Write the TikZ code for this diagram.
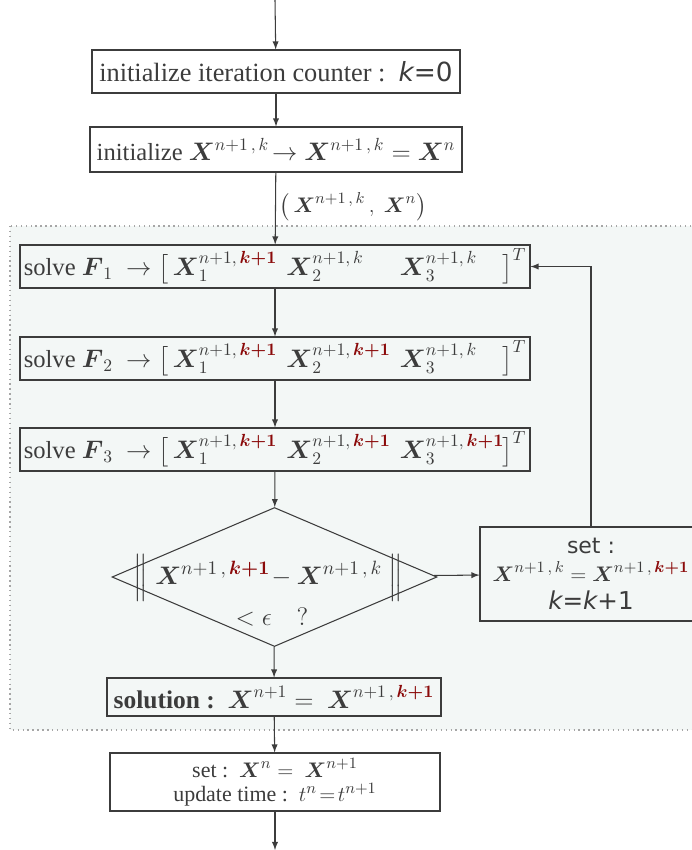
\documentclass[tikz,border=0pt]{standalone}
\usepackage{amsmath,amssymb}
\usepackage{xcolor}
\usepackage{fontspec}
\setmainfont{Liberation Serif}
\setsansfont{DejaVu Sans}
\usepackage{tikz}
\usetikzlibrary{calc,arrows.meta,arrows,shapes.geometric}
\definecolor{kred}{RGB}{139,10,10}
\definecolor{trait}{RGB}{60,60,60}
\definecolor{fond}{RGB}{243,247,246}
\newcommand{\Xb}{\boldsymbol{X}}
\newcommand{\kun}{\textcolor{kred}{\boldsymbol{k+1}}}
\newcommand{\sfk}[1]{{\sffamily\itshape #1}}
\newcommand{\colX}[2][2.27cm]{\makebox[#1][l]{$#2$}}

\begin{document}
\begin{tikzpicture}[>=latex,x=0.02cm,y=-0.02cm,
		boite/.style={draw=trait,line width=0.6pt,minimum height=43*0.02cm,inner sep=2pt,text=trait,font=\fontsize{15}{17}\selectfont},
		resol/.style={boite,minimum width=510*0.02cm,font=\fontsize{14}{16}\selectfont},
		fleche/.style={->,trait,line width=0.6pt}]
		\useasboundingbox (0,0) rectangle (691,850);
		\draw[gray!70,dotted,line width=0.8pt,fill=fond] (10,226) rectangle (705,730);
		\coordinate (haut) at (275,0);
		\coordinate (bas) at (275,850);
		\node[boite,minimum width=368*0.02cm] (init) at (276,71.5) {initialize iteration counter :\ \ \sfk{k}{\sffamily =0}};
		\node[boite,minimum width=372*0.02cm,minimum height=45*0.02cm,font=\fontsize{14}{16}\selectfont] (initx) at (276,149.5) {initialize $\Xb^{n+1\,,\,k}\!\rightarrow\Xb^{n+1\,,\,k}=\Xb^{n}$};
		\node[resol] (s1) at (275,266.5) {solve $\boldsymbol{F}_1\ \rightarrow\big[\,$\colX{\Xb_1^{n+1,\,\kun}}\colX{\Xb_2^{n+1,\,k}}\colX[2.05cm]{\Xb_3^{n+1,\,k}}$\big]^T$};
		\node[resol] (s2) at (275,358.5) {solve $\boldsymbol{F}_2\ \rightarrow\big[\,$\colX{\Xb_1^{n+1,\,\kun}}\colX{\Xb_2^{n+1,\,\kun}}\colX[2.05cm]{\Xb_3^{n+1,\,k}}$\big]^T$};
		\node[resol] (s3) at (275,449.5) {solve $\boldsymbol{F}_3\ \rightarrow\big[\,$\colX{\Xb_1^{n+1,\,\kun}}\colX{\Xb_2^{n+1,\,\kun}}\colX[2.05cm]{\Xb_3^{n+1,\,\kun}}$\big]^T$};
		\node[draw=trait,line width=0.6pt,diamond,minimum width=325*0.02cm,minimum height=139*0.02cm,inner sep=0pt] (test) at (274.5,577) {};
		\node[text=trait,font=\fontsize{15}{17}\selectfont] (norme) at (268,578) {$\Big\|\hspace{0.15cm}\Xb^{n+1\,,\,\kun}\!-\Xb^{n+1\,,\,k}\hspace{0.12cm}\Big\|$};
		\node[text=trait,font=\fontsize{14}{16}\selectfont] (eps) at (272,617) {$<\epsilon\quad ?$};
		\node[boite,minimum width=222*0.02cm,minimum height=94*0.02cm,align=center,font=\fontsize{13}{15}\selectfont] (setk) at (591,574) {{\sffamily\fontsize{12.5}{14}\selectfont set :}\\[1pt]$\Xb^{n+1\,,\,k}=\Xb^{n+1\,,\,\kun}$\\[1pt]{\fontsize{14}{16}\selectfont\sfk{k}{\sffamily =}\sfk{k}{\sffamily +1}}};
		\node[boite,minimum width=334*0.02cm,minimum height=38*0.02cm,font=\fontsize{14.5}{16}\selectfont] (sol) at (274,697) {\textbf{solution :}\ \ $\Xb^{n+1}=\ \Xb^{n+1\,,\,\kun}$};
		\node[boite,minimum width=330*0.02cm,minimum height=58*0.02cm,align=center,font=\fontsize{12.5}{13.5}\selectfont] (maj) at (275,782) {set :\ \ $\Xb^{n}=\ \Xb^{n+1}$\\update time :\ \ $t^{n}\!=\!t^{n+1}$};
		% liaisons
		\draw[fleche] (haut) -- (init);
		\draw[fleche] (init) -- (initx);
		\draw[fleche] (initx) -- (s1) node[pos=0.48,right,inner sep=2pt,text=trait,font=\fontsize{13}{15}\selectfont]{$\big(\,\Xb^{n+1\,,\,k}\,,\ \Xb^{n}\big)$};
		\draw[fleche] (s1) -- (s2);
		\draw[fleche] (s2) -- (s3);
		\draw[fleche] (s3) -- (test);
		\draw[fleche] (test) -- (setk);
		\draw[fleche] (setk.north) |- (s1.east);
		\draw[fleche] (test) -- (sol);
		\draw[fleche] (sol) -- (maj);
		\draw[fleche] (maj) -- (bas);
	\end{tikzpicture}
\end{document}
